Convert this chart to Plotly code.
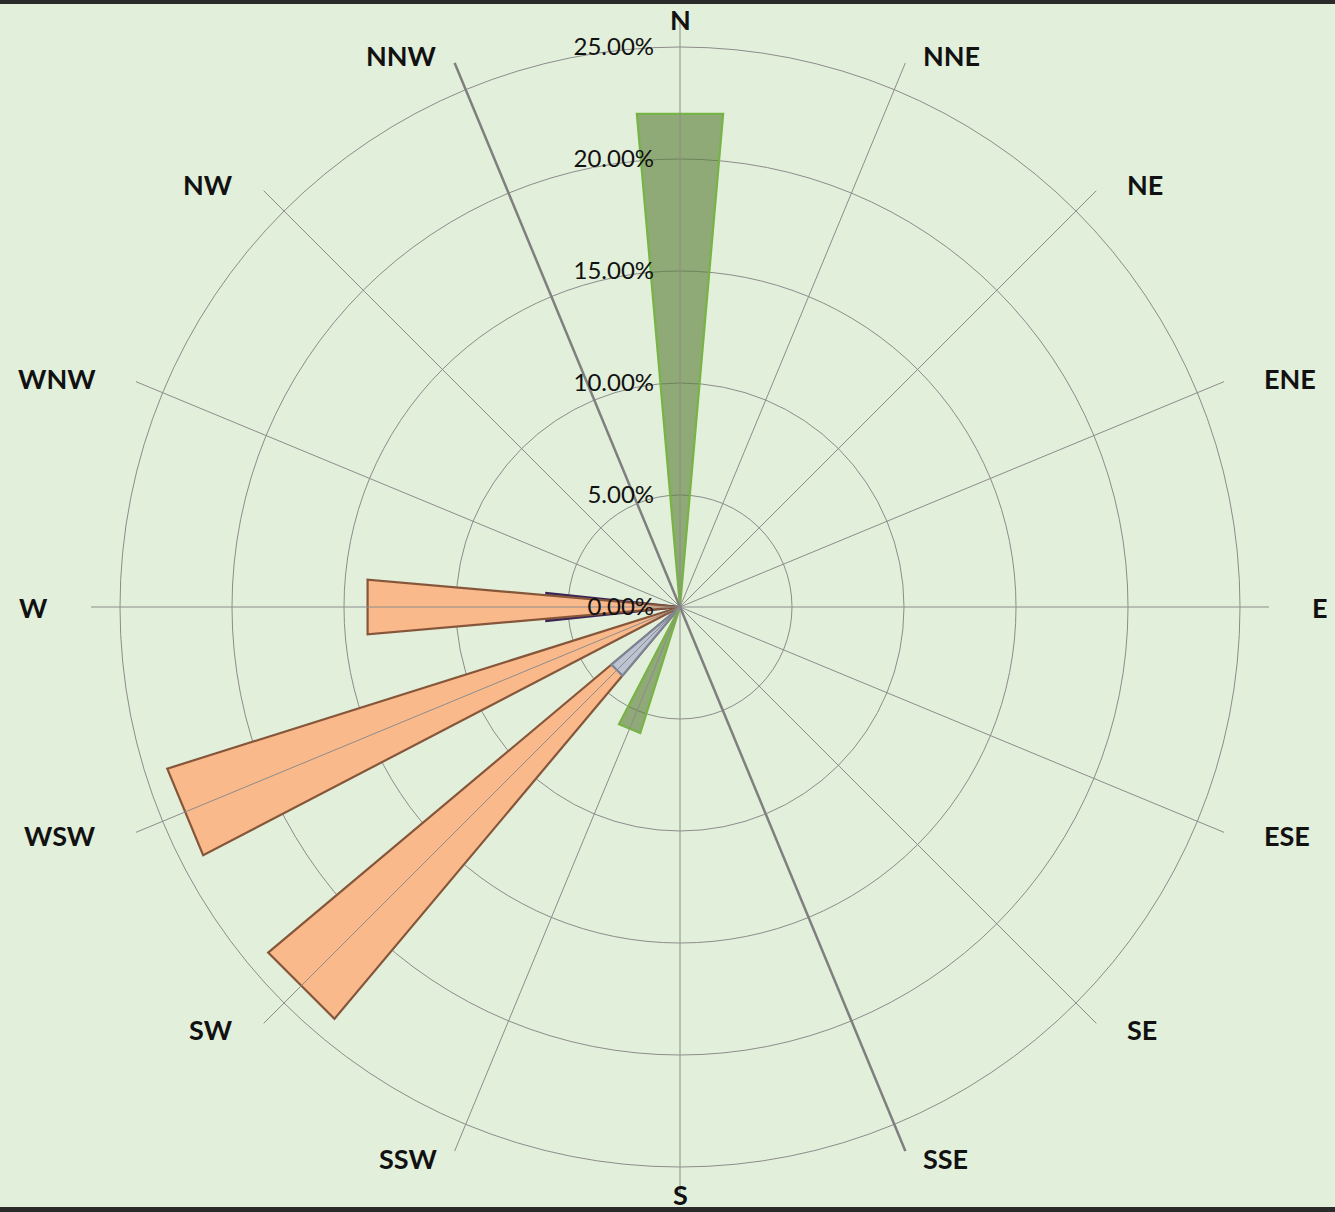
import math
import plotly.graph_objects as go

# ---------------- data ----------------
directions = ["N", "NNE", "NE", "ENE", "E", "ESE", "SE", "SSE",
              "S", "SSW", "SW", "WSW", "W", "WNW", "NW", "NNW"]
angles = [i * 22.5 for i in range(16)]

# frequency (%) per direction for each series
series_purple = [0, 0, 0, 0, 0, 0, 0, 0, 0, 0, 0, 0, 6.0, 0, 0, 0]
series_orange = [0, 0, 0, 0, 0, 0, 0, 0, 0, 0, 24.0, 24.0, 14.0, 0, 0, 0]
series_grey = [0, 0, 0, 0, 0, 0, 0, 0, 0, 0, 4.0, 0, 0, 0, 0, 0]
series_green = [22.1, 0, 0, 0, 0, 0, 0, 0, 0, 5.9, 0, 0, 0, 0, 0, 0]

radial_ticks = [0, 5, 10, 15, 20, 25]
radial_labels = ["0.00%", "5.00%", "10.00%", "15.00%", "20.00%", "25.00%"]

# ---------------- styling ----------------
BG = "#E2EFDA"
GRID = "#8C8C8C"
RMAX = 26.3

styles = [
    ("Series4", series_purple, "#4A3366", "#3A2555", 6.0),
    ("Series2", series_orange, "#F9B98A", "#86563A", 5.0),
    ("Series3", series_grey, "#BCC4D2", "#7C8496", 5.0),
    ("Series1", series_green, "rgba(92,126,58,0.62)", "#78B445", 5.0),
]

fig = go.Figure()

for name, vals, fill, edge, half in styles:
    for d, a, v in zip(directions, angles, vals):
        if v > 0:
            fig.add_trace(go.Scatterpolar(
                r=[0, v, v, 0],
                theta=[a, a - half, a + half, a],
                mode="lines",
                fill="toself",
                fillcolor=fill,
                line=dict(color=edge, width=2.2),
                name=name,
                showlegend=False,
                hovertemplate=f"{name}<br>{d}: {v:.2f}%<extra></extra>",
            ))

# spokes drawn above the wedges
for d, a in zip(directions, angles):
    thick = d in ("NNW", "SSE")
    fig.add_trace(go.Scatterpolar(
        r=[0, RMAX],
        theta=[a, a],
        mode="lines",
        line=dict(color="#7F7F7F" if thick else GRID, width=2.5 if thick else 1),
        showlegend=False,
        hoverinfo="skip",
    ))

W, H = 1335, 1212
cx, cy, rpx = 680, 607, RMAX * 112 / 5

# direction labels placed on an ellipse around the plot
LA, LB = 630, 597
annotations = []
for d, a in zip(directions, angles):
    s, c = math.sin(math.radians(a)), math.cos(math.radians(a))
    if abs(s) < 0.1:
        xa = "center"
        px, py = cx, cy - 587 * c
    else:
        xa = "left" if s > 0 else "right"
        px, py = cx + LA * s, cy - LB * c
    annotations.append(dict(
        x=px / W, y=1 - py / H, xref="paper", yref="paper",
        text=d, showarrow=False, xanchor=xa, yanchor="middle",
        font=dict(family="Lato", size=27, color="#111111", weight="bold"),
    ))

fig.update_layout(
    width=W, height=H,
    margin=dict(l=0, r=0, t=0, b=0),
    paper_bgcolor=BG,
    plot_bgcolor=BG,
    showlegend=False,
    annotations=annotations,
    polar=dict(
        domain=dict(x=[(cx - rpx) / W, (cx + rpx) / W],
                    y=[(H - cy - rpx) / H, (H - cy + rpx) / H]),
        bgcolor=BG,
        radialaxis=dict(
            range=[0, RMAX],
            tickmode="array",
            tickvals=radial_ticks,
            ticktext=radial_labels,
            angle=90,
            tickangle=90,
            side="counterclockwise",
            showline=False,
            showgrid=True,
            gridcolor=GRID,
            gridwidth=1,
            ticks="outside",
            ticklen=17,
            tickcolor="rgba(0,0,0,0)",
            tickfont=dict(family="Lato", size=24, color="#111111"),
            layer="above traces",
        ),
        angularaxis=dict(
            rotation=90,
            direction="clockwise",
            tickmode="array",
            tickvals=angles,
            ticktext=directions,
            showticklabels=False,
            showgrid=False,
            showline=False,
            ticks="",
        ),
    ),
    shapes=[
        dict(type="rect", xref="paper", yref="paper", x0=0, x1=1,
             y0=1 - 4 / H, y1=1, fillcolor="#2B2B2B", line=dict(width=0), layer="above"),
        dict(type="rect", xref="paper", yref="paper", x0=0, x1=1,
             y0=0, y1=5 / H, fillcolor="#2B2B2B", line=dict(width=0), layer="above"),
    ],
)

fig.write_html("out.html")
